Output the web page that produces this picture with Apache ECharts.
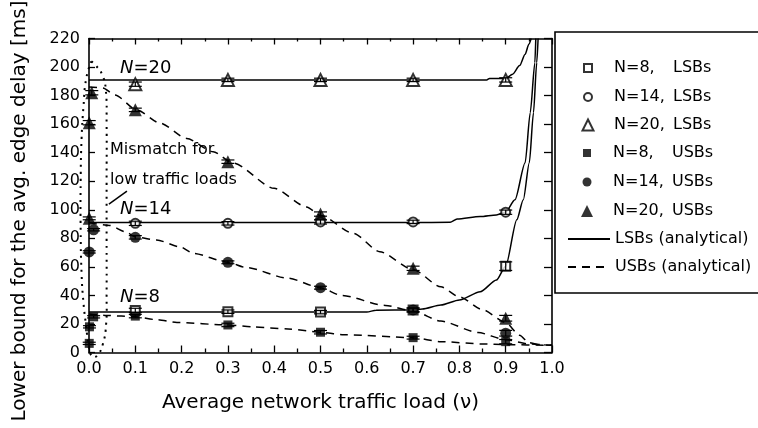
<!DOCTYPE html>
<html><head><meta charset="utf-8">
<script src="https://cdn.jsdelivr.net/npm/echarts@6/dist/echarts.min.js"></script>
<style>html,body{margin:0;padding:0;background:#fff}#c{width:758px;height:428px}</style>
</head><body><div id="c"></div>
<script>
// ---- data ----
const xTicks = [0.0, 0.1, 0.2, 0.3, 0.4, 0.5, 0.6, 0.7, 0.8, 0.9, 1.0];
const simLoads = [0.1, 0.3, 0.5, 0.7, 0.9];
const lsb8Sim = [29.5, 28.6, 28.3, 29.8, 60.5];
const lsb14Sim = [90.5, 90.5, 91.5, 91.5, 98.3];
const lsb20Sim = [188, 191, 191, 191, 191];
const lsb8Err = [1.5, 1.2, 1.2, 1.5, 3];
const lsb14Err = [1.5, 1.2, 1.5, 1.2, 1.5];
const lsb20Err = [1.5, 1.2, 1.2, 1.2, 1.5];

const usb8Loads = [0.0005, 0.001, 0.01, 0.1, 0.3, 0.5, 0.7, 0.9];
const usb8Sim = [6.4, 18, 25, 25.5, 19.3, 14.2, 10.4, 7.6];
const usb8Err = [0.8, 0.8, 0.8, 1.2, 1.2, 1.2, 1.0, 1.5];
const usb14Loads = [0.0005, 0.01, 0.1, 0.3, 0.5, 0.7, 0.9];
const usb14Sim = [70.5, 86, 80.7, 63.2, 45.4, 29.8, 13.5];
const usb14Err = [0.8, 0.8, 1.2, 1.0, 1.0, 1.2, 2.0];
const usb20Loads = [0.0005, 0.0005, 0.006, 0.1, 0.3, 0.5, 0.7, 0.9];
const usb20Sim = [94, 161, 182, 170, 133.7, 97, 59, 24];
const usb20Err = [1.0, 1.5, 1.5, 1.2, 1.2, 1.5, 1.5, 2.0];

const lsb8AnX = [0, 0.1, 0.2, 0.3, 0.4, 0.5, 0.6, 0.62, 0.7, 0.72, 0.76, 0.8, 0.845, 0.88, 0.9, 0.924, 0.938, 0.951, 0.96, 0.967, 0.97];
const lsb8AnY = [28.3, 28.3, 28.3, 28.3, 28.3, 28.3, 28.4, 29.6, 29.8, 30.5, 33.3, 36.8, 42.6, 50.8, 60.5, 93, 107, 133, 168, 203, 220];
const lsb14AnX = [0, 0.1, 0.3, 0.5, 0.7, 0.78, 0.795, 0.845, 0.88, 0.9, 0.92, 0.942, 0.953, 0.963, 0.965];
const lsb14AnY = [91, 91, 91, 91, 91, 91.2, 93.5, 95.2, 96.4, 98.5, 107, 133, 168, 203, 220];
const lsb20AnX = [0, 0.3, 0.6, 0.859, 0.865, 0.9, 0.915, 0.93, 0.942, 0.95, 0.955];
const lsb20AnY = [191, 191, 191, 191, 192, 192, 195, 201, 209, 216, 220];

const usb8AnX = [0.0, 0.035, 0.07, 0.1, 0.146, 0.19, 0.3, 0.354, 0.43, 0.5, 0.55, 0.7, 0.76, 0.85, 0.9, 1.0];
const usb8AnY = [27, 26, 25.5, 25, 23, 21, 19.3, 18, 16.5, 14.2, 12.5, 10.4, 7.6, 6, 5.5, 5];
const usb14AnX = [0.0, 0.045, 0.078, 0.1, 0.146, 0.197, 0.225, 0.3, 0.34, 0.43, 0.5, 0.545, 0.64, 0.7, 0.76, 0.84, 0.9, 0.95, 1.0];
const usb14AnY = [91, 89, 84.7, 81, 78.8, 74, 69.5, 63.2, 59.5, 52, 45.4, 40, 33, 29, 22, 14, 9, 6, 5];
const usb20AnX = [0.0, 0.03, 0.056, 0.103, 0.153, 0.211, 0.268, 0.311, 0.4, 0.47, 0.5, 0.571, 0.628, 0.7, 0.76, 0.8, 0.85, 0.9, 0.93, 0.95, 0.97, 1.0];
const usb20AnY = [186, 185.4, 180.5, 170, 160.8, 150, 140.7, 132.8, 115, 102, 96, 83.5, 70.6, 58, 46, 39, 30, 21, 12, 7, 5.5, 5];

// dotted loop around the low-load simulation points
const loopX = [0.005, 0.015, 0.028, 0.036, 0.038, 0.038, 0.038, 0.038, 0.037, 0.03, 0.018, 0.008, 0.0, -0.006, -0.012, -0.016, -0.018, -0.018, -0.016, -0.012, -0.006, 0.005];
const loopY = [204, 201, 195, 185, 160, 120, 80, 40, 20, 6, -2, -3, 3, 18, 35, 55, 85, 120, 150, 172, 192, 204];
const arrowFrom = [0.082, 113];
const arrowTo = [0.043, 104];

const legendNames = ['N=8, LSBs', 'N=14, LSBs', 'N=20, LSBs', 'N=8, USBs', 'N=14, USBs', 'N=20, USBs', 'LSBs (analytical)', 'USBs (analytical)'];

// ---- build ----
const zip = (xs, ys) => xs.map((x, i) => [x, ys[i]]);
const zip3 = (xs, ys, es) => xs.map((x, i) => [x, ys[i], es[i]]);
const FONT = '"DejaVu Sans", sans-serif';
const BLACK = '#000';

const errData = [].concat(
  zip3(simLoads, lsb8Sim, lsb8Err), zip3(simLoads, lsb14Sim, lsb14Err), zip3(simLoads, lsb20Sim, lsb20Err),
  zip3(usb8Loads, usb8Sim, usb8Err), zip3(usb14Loads, usb14Sim, usb14Err), zip3(usb20Loads, usb20Sim, usb20Err)
);

function scatter(name, sym, size, data) {
  return { name, type: 'scatter', symbol: sym, symbolSize: size, data,
    itemStyle: { color: BLACK, borderColor: BLACK, borderWidth: sym.indexOf('empty') === 0 ? 1.3 : 0 },
    z: 5, silent: true };
}
function anLine(name, dashed, data) {
  return { name, type: 'line', data, symbol: 'none', showSymbol: false, smooth: 0.25, smoothMonotone: 'x',
    lineStyle: { color: BLACK, width: 1.5, type: dashed ? [8, 6] : 'solid' },
    itemStyle: { color: BLACK }, z: 3, silent: true };
}

// one legend per row so each symbol keeps its own size
const legendRowY = [68, 97, 125, 153, 182, 211, 239, 267];
const legendIcons = ['emptyRect', 'emptyCircle', 'emptyTriangle', 'rect', 'circle', 'triangle', null, null];
const legendIconSize = [8, 8, 11, 8, 9, 12, 0, 0];
const ICON_CX = 587, TEXT_X = 613, LINE_X = 567, LINE_W = 42;
const richStyles = {
  s: { fontFamily: FONT, fontSize: 16, lineHeight: 18 },
  a: { width: 59, fontFamily: FONT, fontSize: 16, color: BLACK, lineHeight: 18 },
  b: { fontFamily: FONT, fontSize: 16, color: BLACK, lineHeight: 18 }
};
const legends = legendNames.map((n, i) => {
  const sym = legendIcons[i];
  const size = legendIconSize[i];
  const item = { name: n };
  let left, w, h, pad;
  if (sym) {
    item.icon = sym;
    w = size; h = size; left = ICON_CX - size / 2;
    pad = TEXT_X - (left + size + 5);
  } else {
    item.itemStyle = { opacity: 0 };
    w = LINE_W; h = 11; left = LINE_X; pad = 0;
  }
  const rs = Object.assign({}, richStyles, { s: Object.assign({}, richStyles.s, { width: Math.max(pad, 0) }) });
  return {
    orient: 'vertical', left: left, top: legendRowY[i] - 9, padding: 0,
    itemWidth: w, itemHeight: h,
    data: [item], selectedMode: false,
    textStyle: { fontFamily: FONT, fontSize: 16, color: BLACK, lineHeight: 18, rich: rs },
    formatter: function (s) {
      const m = s.match(/^(N=\d+,)\s*(\w+)$/);
      return m ? '{s| }{a|' + m[1] + '}{b|' + m[2] + '}' : s;
    }
  };
});

const chart = echarts.init(document.getElementById('c'), null, { renderer: 'canvas' });
const axisLine = { show: true, onZero: false, lineStyle: { color: BLACK, width: 1.6 } };

chart.setOption({
  backgroundColor: '#fff',
  animation: false,
  textStyle: { fontFamily: FONT },
  grid: { left: 89, right: 206, top: 38.5, bottom: 75.5, containLabel: false },
  legend: legends,
  xAxis: [
    { type: 'value', position: 'bottom', min: 0, max: 1, interval: 0.1,
      name: 'Average network traffic load (\u03bd)', nameLocation: 'middle', nameGap: 40,
      nameTextStyle: { fontFamily: FONT, fontSize: 20, color: BLACK },
      axisLine, splitLine: { show: false },
      axisTick: { inside: true, length: 7, lineStyle: { color: BLACK, width: 1.3 } },
      minorTick: { show: true, splitNumber: 2, length: 4, lineStyle: { color: BLACK, width: 1.3 } },
      axisLabel: { fontFamily: FONT, fontSize: 16, color: BLACK, margin: 8, formatter: v => v.toFixed(1) } },
    { type: 'value', position: 'top', min: 0, max: 1, interval: 0.1,
      axisLine, splitLine: { show: false },
      axisTick: { inside: true, length: 6, lineStyle: { color: BLACK, width: 1.3 } },
      minorTick: { show: true, splitNumber: 2, length: 3, lineStyle: { color: BLACK, width: 1.3 } },
      axisLabel: { show: false } }
  ],
  yAxis: [
    { type: 'value', position: 'left', min: 0, max: 220, interval: 20,
      axisLine, splitLine: { show: false },
      axisTick: { inside: true, length: 6, lineStyle: { color: BLACK, width: 1.3 } },
      axisLabel: { fontFamily: FONT, fontSize: 16, color: BLACK, margin: 9, padding: [0, 0, 5, 0] } },
    { type: 'value', position: 'right', min: 0, max: 220, interval: 20,
      axisLine, splitLine: { show: false },
      axisTick: { inside: true, length: 8, lineStyle: { color: BLACK, width: 1.3 } },
      axisLabel: { show: false } }
  ],
  graphic: [
    { type: 'rect', shape: { x: 555, y: 32, width: 230, height: 261 }, style: { fill: 'none', stroke: BLACK, lineWidth: 1.6 }, silent: true },
    { type: 'text', x: 20, y: 211, rotation: Math.PI / 2, silent: true,
      style: { text: 'Lower bound for the avg. edge delay [ms]', font: '20px ' + FONT, fill: BLACK, align: 'center', verticalAlign: 'middle' } },
    { type: 'text', x: 120, y: 68, silent: true,
      style: { text: '{i|N}=20', font: '18px ' + FONT, fill: BLACK, verticalAlign: 'middle', rich: { i: { fontStyle: 'italic', fontFamily: FONT, fontSize: 18 } } } },
    { type: 'text', x: 120, y: 209, silent: true,
      style: { text: '{i|N}=14', font: '18px ' + FONT, fill: BLACK, verticalAlign: 'middle', rich: { i: { fontStyle: 'italic', fontFamily: FONT, fontSize: 18 } } } },
    { type: 'text', x: 120, y: 297.5, silent: true,
      style: { text: '{i|N}=8', font: '18px ' + FONT, fill: BLACK, verticalAlign: 'middle', rich: { i: { fontStyle: 'italic', fontFamily: FONT, fontSize: 18 } } } },
    { type: 'text', x: 110, y: 150, silent: true,
      style: { text: 'Mismatch for', font: '16px ' + FONT, fill: BLACK, verticalAlign: 'middle' } },
    { type: 'text', x: 110, y: 180, silent: true,
      style: { text: 'low traffic loads', font: '16px ' + FONT, fill: BLACK, verticalAlign: 'middle' } }
  ],
  series: [
    anLine('LSBs (analytical)', false, zip(lsb8AnX, lsb8AnY)),
    anLine('LSBs (analytical)', false, zip(lsb14AnX, lsb14AnY)),
    anLine('LSBs (analytical)', false, zip(lsb20AnX, lsb20AnY)),
    anLine('USBs (analytical)', true, zip(usb8AnX, usb8AnY)),
    anLine('USBs (analytical)', true, zip(usb14AnX, usb14AnY)),
    anLine('USBs (analytical)', true, zip(usb20AnX, usb20AnY)),
    scatter('N=8, LSBs', 'emptyRect', 9, zip(simLoads, lsb8Sim)),
    scatter('N=14, LSBs', 'emptyCircle', 9, zip(simLoads, lsb14Sim)),
    scatter('N=20, LSBs', 'emptyTriangle', 12, zip(simLoads, lsb20Sim)),
    scatter('N=8, USBs', 'rect', 9, zip(usb8Loads, usb8Sim)),
    scatter('N=14, USBs', 'circle', 11, zip(usb14Loads, usb14Sim)),
    scatter('N=20, USBs', 'triangle', 13, zip(usb20Loads, usb20Sim)),
    { name: 'errors', type: 'custom', z: 6, silent: true, data: errData, encode: { x: 0, y: 1 },
      renderItem: function (params, api) {
        const x = api.value(0), y = api.value(1), e = api.value(2);
        const p1 = api.coord([x, y + e]), p2 = api.coord([x, y - e]);
        const hw = 6.5, st = { stroke: BLACK, lineWidth: 1.2 };
        return { type: 'group', children: [
          { type: 'line', shape: { x1: p1[0], y1: p1[1], x2: p2[0], y2: p2[1] }, style: st },
          { type: 'line', shape: { x1: p1[0] - hw, y1: p1[1], x2: p1[0] + hw, y2: p1[1] }, style: st },
          { type: 'line', shape: { x1: p2[0] - hw, y1: p2[1], x2: p2[0] + hw, y2: p2[1] }, style: st }
        ] };
      } },
    { name: 'mismatch', type: 'custom', z: 4, silent: true, clip: false, data: [[loopX[0], loopY[0]]], encode: { x: 0, y: 1 },
      renderItem: function (params, api) {
        const pts = loopX.map((x, i) => api.coord([x, loopY[i]]));
        return { type: 'polyline', shape: { points: pts, smooth: 0.5 },
          style: { stroke: BLACK, fill: 'none', lineWidth: 2, lineDash: [2, 5] } };
      } },
    { name: 'arrow', type: 'line', data: [], silent: true,
      markLine: { silent: true, symbol: ['none', 'arrow'], symbolSize: [0, 9], label: { show: false },
        lineStyle: { color: BLACK, width: 1.5, type: 'solid' },
        data: [[{ coord: arrowFrom }, { coord: arrowTo }]] } }
  ]
});
</script></body></html>
